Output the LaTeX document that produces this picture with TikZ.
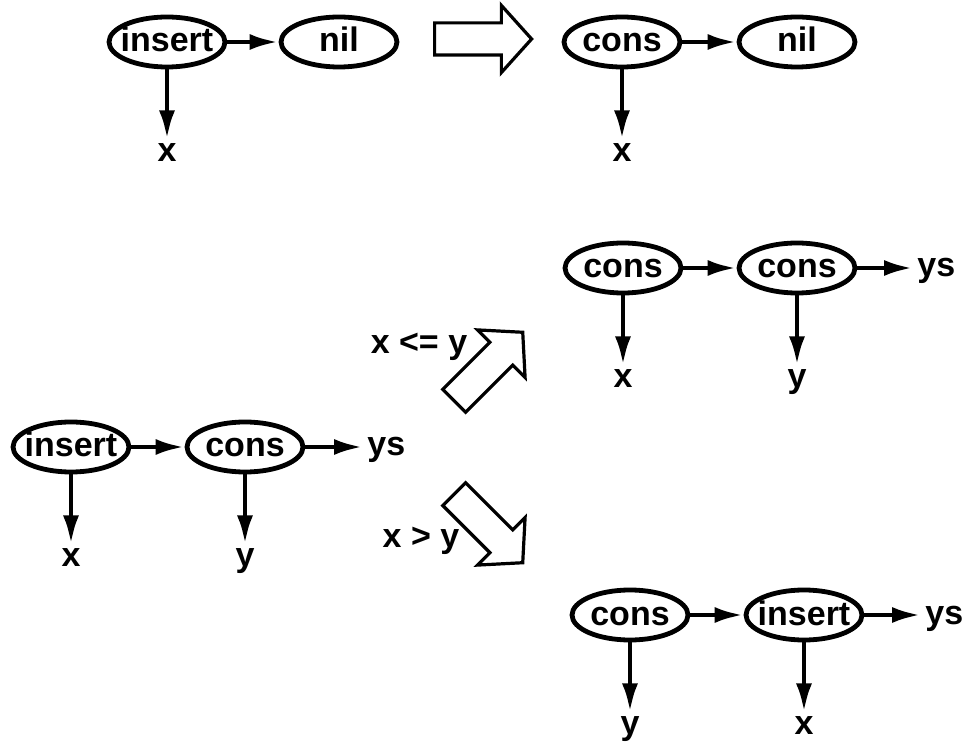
\documentclass[tikz,border=0pt]{standalone}
\usepackage{fontspec}
\setmainfont{Liberation Sans}
\usepackage{tikz}
\usetikzlibrary{arrows.meta}
\usetikzlibrary{shapes.geometric}
\usetikzlibrary{shapes.arrows}
\usetikzlibrary{positioning}
\newcommand{\zb}[1]{\makebox[0pt]{#1}}% Text ohne Breite
\tikzset{
  Knoten/.style={ellipse, draw, line width=2.4pt, minimum width=58pt, minimum height=25pt,
    inner sep=0pt, text height=10pt, text depth=0pt}, % für Termknoten
  Marke/.style={inner sep=2pt, text height=9pt, text depth=0pt}, % für Variablen
  Pfeil/.style={line width=2.4pt, ->}, % für Kanten
  Hohlpfeil/.style={single arrow, draw, line width=1.6pt, minimum height=48.5pt,
    minimum width=32pt, single arrow head extend=8.75pt, single arrow tip angle=96,
    inner xsep=0pt, inner ysep=7.25pt, anchor=tail} % für Umformungen
}
\begin{document}
\begin{tikzpicture}[
x=0.5pt, y=-0.5pt,
font=\fontsize{17}{21}\selectfont\bfseries,
node distance=35pt,
>={Latex[length=14.5pt,width=8pt]} % Voreinstellung für Pfeilspitzen
]
\useasboundingbox (0,0) rectangle (968,742);

%Knoten
\node[Knoten] (I1) at (167,42) {\zb{insert}};
\node[Knoten] (N1) at (339,42) {\zb{nil}};
\node[Knoten] (C1) at (622,42) {\zb{cons}};
\node[Knoten] (N2) at (797,42) {\zb{nil}};

\node[Knoten] (C2) at (623,268) {\zb{cons}};
\node[Knoten] (C3) at (797,268) {\zb{cons}};

\node[Knoten] (I2) at (71,447) {\zb{insert}};
\node[Knoten] (C4) at (245,447) {\zb{cons}};

\node[Knoten] (C5) at (630,615) {\zb{cons}};
\node[Knoten] (I3) at (804,615) {\zb{insert}};

%Variablen
\node[Marke, below=of I1] (X1) {x};
\node[Marke, below=of C1] (X2) {x};
\node[Marke, below=of C2] (X3) {x};
\node[Marke, below=of C3] (Y1) {y};
\node[Marke, below=of I2] (X4) {x};
\node[Marke, below=of C4] (Y2) {y};
\node[Marke, below=of C5] (Y3) {y};
\node[Marke, below=of I3] (X5) {x};

\node[Marke, anchor=west] (YS1) at (913,268) {ys};
\node[Marke, anchor=west] (YS2) at (363,447) {ys};
\node[Marke, anchor=west] (YS3) at (921,615) {ys};

%Umformungspfeile
\node[Hohlpfeil] (H1) at (433,39) {};
\node[Hohlpfeil, rotate=45] (H2) at (453,402) {};
\node[Hohlpfeil, rotate=-45] (H3) at (453,493) {};
\node[Marke] (B1) at (419,345) {x <= y};
\node[Marke] (B2) at (421,538) {x > y};

%Kanten
\draw[Pfeil] (I1) -- (N1);
\draw[Pfeil] (I1) -- (X1);
\draw[Pfeil] (C1) -- (N2);
\draw[Pfeil] (C1) -- (X2);

\draw[Pfeil] (C2) -- (C3);
\draw[Pfeil] (C3) -- (YS1);
\draw[Pfeil] (C2) -- (X3);
\draw[Pfeil] (C3) -- (Y1);

\draw[Pfeil] (I2) -- (C4);
\draw[Pfeil] (C4) -- (YS2);
\draw[Pfeil] (I2) -- (X4);
\draw[Pfeil] (C4) -- (Y2);

\draw[Pfeil] (C5) -- (I3);
\draw[Pfeil] (I3) -- (YS3);
\draw[Pfeil] (C5) -- (Y3);
\draw[Pfeil] (I3) -- (X5);

\end{tikzpicture}
\end{document}
